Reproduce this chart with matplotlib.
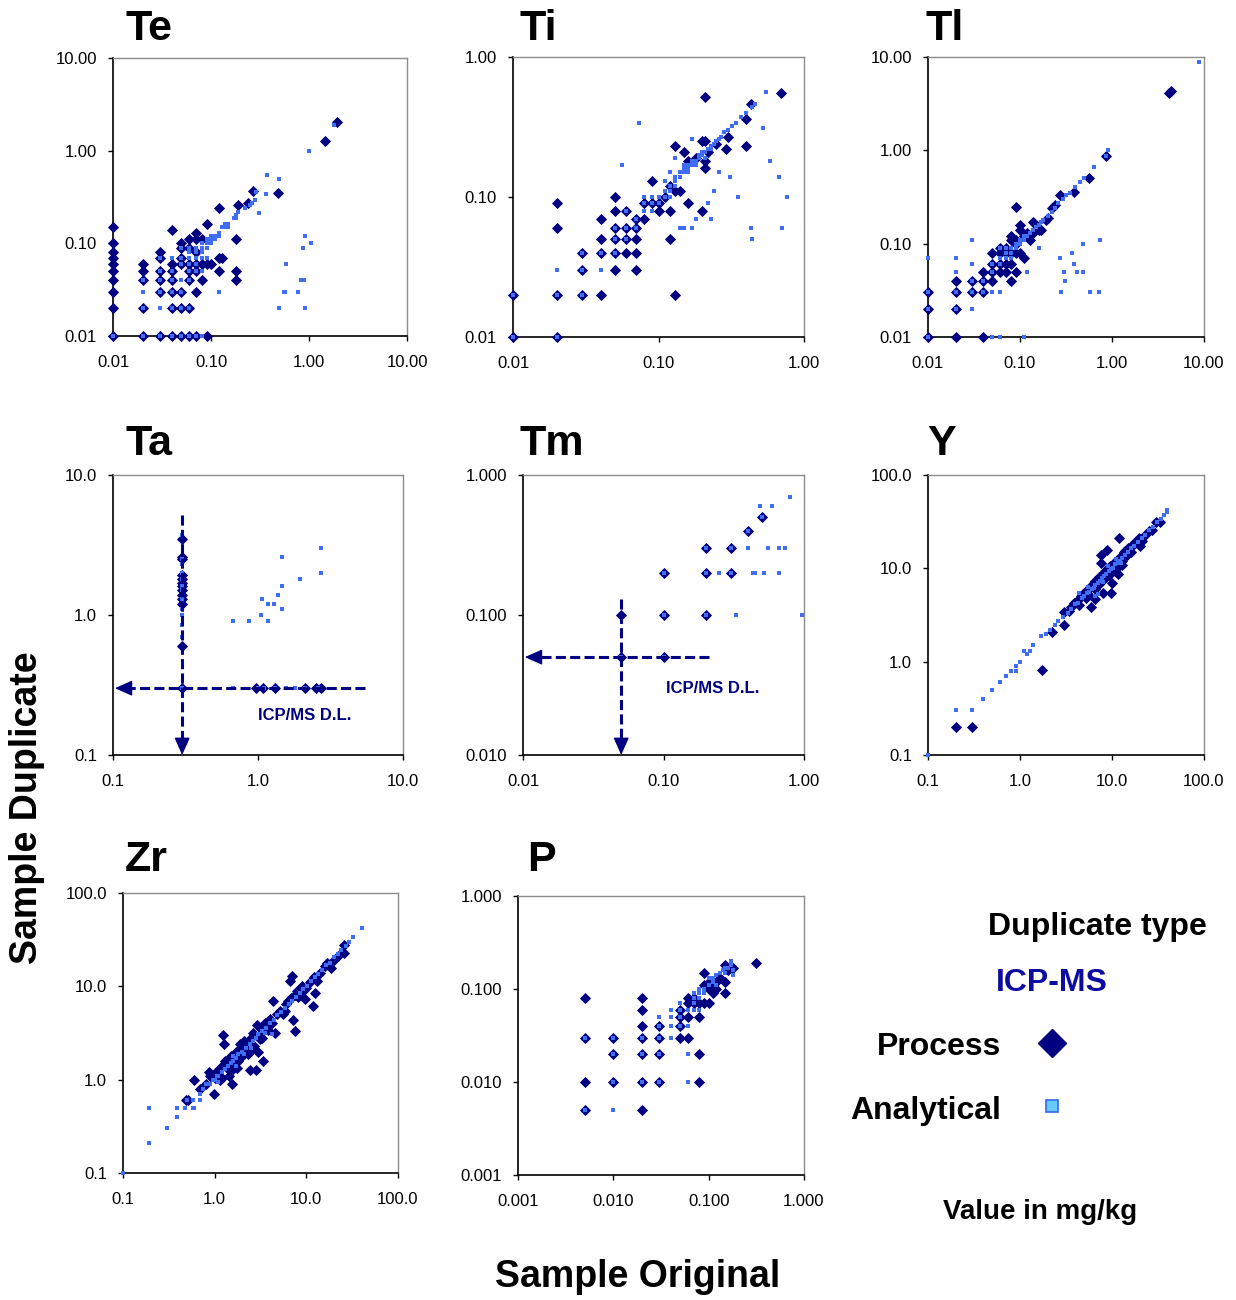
import matplotlib.pyplot as plt
from matplotlib.ticker import FixedLocator, FixedFormatter, NullLocator
from matplotlib.lines import Line2D

plt.rcParams['font.family'] = ['Liberation Sans', 'DejaVu Sans']

NAVY = '#000080'
BLUE = '#3f6ef5'
W, H = 1236, 1300

# ---- data: (sample original, sample duplicate) in mg/kg ----
te_process = [(0.01, 0.01), (0.01, 0.02), (0.01, 0.03), (0.01, 0.04), (0.01, 0.05), (0.01, 0.06),
              (0.01, 0.07), (0.01, 0.08), (0.01, 0.10), (0.01, 0.15),
              (0.02, 0.01), (0.02, 0.02), (0.02, 0.04), (0.02, 0.05), (0.02, 0.06),
              (0.03, 0.01), (0.03, 0.03), (0.03, 0.04), (0.03, 0.05), (0.03, 0.07), (0.03, 0.08),
              (0.04, 0.01), (0.04, 0.02), (0.04, 0.03), (0.04, 0.04), (0.04, 0.05), (0.04, 0.06), (0.04, 0.14),
              (0.05, 0.01), (0.05, 0.02), (0.05, 0.03), (0.05, 0.06), (0.05, 0.07), (0.05, 0.09), (0.05, 0.10),
              (0.06, 0.01), (0.06, 0.02), (0.06, 0.04), (0.06, 0.05), (0.06, 0.06), (0.06, 0.09), (0.06, 0.11),
              (0.07, 0.01), (0.07, 0.03), (0.07, 0.05), (0.07, 0.06), (0.07, 0.08), (0.07, 0.11), (0.07, 0.13),
              (0.08, 0.04), (0.08, 0.06), (0.08, 0.11), (0.09, 0.01), (0.09, 0.06), (0.09, 0.16),
              (0.10, 0.06), (0.12, 0.05), (0.12, 0.07), (0.12, 0.24), (0.13, 0.07),
              (0.18, 0.04), (0.18, 0.05), (0.18, 0.11), (0.19, 0.26), (0.24, 0.27), (0.27, 0.37),
              (0.48, 0.35), (1.46, 1.28), (1.93, 2.04)]
te_analytical = [(0.01, 0.01), (0.02, 0.01), (0.03, 0.01), (0.04, 0.01), (0.05, 0.01), (0.06, 0.01),
                 (0.07, 0.01), (0.08, 0.01), (0.02, 0.02), (0.04, 0.02), (0.05, 0.02), (0.06, 0.02),
                 (0.03, 0.03), (0.04, 0.03), (0.05, 0.03), (0.02, 0.04), (0.03, 0.04), (0.04, 0.04),
                 (0.06, 0.04), (0.03, 0.05), (0.04, 0.05), (0.06, 0.05), (0.07, 0.05), (0.03, 0.07),
                 (0.05, 0.06), (0.06, 0.06), (0.07, 0.06), (0.05, 0.07), (0.06, 0.07), (0.07, 0.07),
                 (0.06, 0.08), (0.07, 0.08), (0.05, 0.09), (0.06, 0.09), (0.07, 0.09), (0.08, 0.08),
                 (0.08, 0.09), (0.08, 0.10), (0.09, 0.10), (0.09, 0.11), (0.10, 0.10), (0.10, 0.11),
                 (0.11, 0.11), (0.11, 0.12), (0.12, 0.12), (0.12, 0.13), (0.13, 0.15), (0.14, 0.15),
                 (0.15, 0.16), (0.15, 0.15), (0.14, 0.16), (0.17, 0.19), (0.18, 0.20), (0.19, 0.22),
                 (0.22, 0.24), (0.25, 0.26), (0.26, 0.27), (0.28, 0.29), (0.29, 0.36), (0.36, 0.34),
                 (0.37, 0.54), (0.49, 0.50), (1.00, 1.00), (1.82, 1.90), (0.31, 0.21), (0.90, 0.12),
                 (1.05, 0.10), (0.58, 0.06), (0.56, 0.03), (0.57, 0.03), (0.78, 0.03), (0.82, 0.04),
                 (0.86, 0.04), (0.88, 0.04), (0.87, 0.09), (0.49, 0.02), (0.92, 0.02), (0.12, 0.03),
                 (0.02, 0.03), (0.03, 0.02), (0.04, 0.07), (0.08, 0.05), (0.09, 0.07), (0.08, 0.07),
                 (0.05, 0.04), (0.09, 0.09), (0.10, 0.12), (0.18, 0.19)]

ti_process = [(0.01, 0.01), (0.01, 0.02), (0.02, 0.01), (0.02, 0.02), (0.02, 0.06), (0.02, 0.09),
              (0.03, 0.02), (0.03, 0.03), (0.03, 0.04), (0.04, 0.02), (0.04, 0.04), (0.04, 0.05), (0.04, 0.07),
              (0.05, 0.03), (0.05, 0.04), (0.05, 0.05), (0.05, 0.06), (0.05, 0.08), (0.05, 0.10),
              (0.06, 0.04), (0.06, 0.05), (0.06, 0.06), (0.06, 0.08),
              (0.07, 0.03), (0.07, 0.04), (0.07, 0.05), (0.07, 0.06), (0.07, 0.07),
              (0.08, 0.07), (0.08, 0.09), (0.09, 0.09), (0.09, 0.13), (0.10, 0.08), (0.10, 0.09),
              (0.11, 0.10), (0.12, 0.05), (0.12, 0.08), (0.12, 0.12), (0.13, 0.02), (0.13, 0.23),
              (0.13, 0.11), (0.14, 0.11), (0.15, 0.21), (0.16, 0.09), (0.16, 0.18), (0.18, 0.19),
              (0.20, 0.08), (0.20, 0.25), (0.21, 0.16), (0.21, 0.18), (0.21, 0.25), (0.21, 0.52),
              (0.22, 0.21), (0.25, 0.24), (0.29, 0.22), (0.30, 0.27), (0.40, 0.23), (0.40, 0.36),
              (0.43, 0.46), (0.70, 0.55)]
ti_analytical = [(0.01, 0.01), (0.01, 0.02), (0.02, 0.01), (0.02, 0.02), (0.03, 0.03), (0.03, 0.04),
                 (0.03, 0.02), (0.04, 0.04), (0.05, 0.05), (0.05, 0.04), (0.05, 0.06), (0.06, 0.06),
                 (0.06, 0.08), (0.06, 0.05), (0.07, 0.07), (0.07, 0.06), (0.08, 0.08), (0.08, 0.09),
                 (0.09, 0.09), (0.09, 0.10), (0.10, 0.10), (0.10, 0.09), (0.11, 0.10), (0.11, 0.11),
                 (0.12, 0.12), (0.12, 0.11), (0.13, 0.13), (0.13, 0.12), (0.14, 0.14), (0.14, 0.15),
                 (0.15, 0.15), (0.15, 0.16), (0.16, 0.16), (0.16, 0.17), (0.17, 0.17), (0.17, 0.18),
                 (0.18, 0.18), (0.19, 0.19), (0.19, 0.20), (0.20, 0.20), (0.20, 0.21), (0.21, 0.21),
                 (0.22, 0.22), (0.23, 0.23), (0.24, 0.24), (0.25, 0.25), (0.26, 0.26), (0.27, 0.27),
                 (0.28, 0.29), (0.30, 0.30), (0.32, 0.32), (0.34, 0.34), (0.37, 0.37), (0.40, 0.40),
                 (0.44, 0.44), (0.46, 0.46), (0.073, 0.34), (0.056, 0.17), (0.02, 0.03), (0.04, 0.03),
                 (0.55, 0.56), (0.52, 0.31), (0.58, 0.18), (0.67, 0.14), (0.76, 0.10), (0.71, 0.06),
                 (0.43, 0.06), (0.44, 0.05), (0.35, 0.10), (0.31, 0.14), (0.26, 0.15), (0.24, 0.11),
                 (0.22, 0.09), (0.23, 0.07), (0.18, 0.07), (0.14, 0.06), (0.15, 0.06), (0.17, 0.06),
                 (0.13, 0.19), (0.17, 0.26), (0.12, 0.15), (0.12, 0.10), (0.08, 0.10), (0.09, 0.08),
                 (0.11, 0.13), (0.13, 0.14), (0.15, 0.17), (0.16, 0.15), (0.18, 0.17), (0.21, 0.19),
                 (0.23, 0.22)]

tl_process = [(0.01, 0.01), (0.01, 0.02), (0.01, 0.03), (0.02, 0.01), (0.02, 0.02), (0.02, 0.03),
              (0.02, 0.04), (0.03, 0.03), (0.03, 0.04), (0.04, 0.01), (0.04, 0.03), (0.04, 0.04),
              (0.04, 0.05), (0.05, 0.04), (0.05, 0.05), (0.05, 0.06), (0.05, 0.08), (0.06, 0.05),
              (0.06, 0.06), (0.06, 0.08), (0.06, 0.09), (0.07, 0.05), (0.07, 0.06), (0.07, 0.08),
              (0.08, 0.04), (0.08, 0.06), (0.08, 0.08), (0.08, 0.11), (0.08, 0.12), (0.09, 0.05),
              (0.09, 0.08), (0.09, 0.11), (0.09, 0.25), (0.10, 0.08), (0.10, 0.16), (0.10, 0.14),
              (0.11, 0.07), (0.12, 0.12), (0.12, 0.13), (0.13, 0.11), (0.14, 0.17), (0.14, 0.13),
              (0.17, 0.14), (0.19, 0.18), (0.24, 0.26), (0.27, 0.33), (0.39, 0.36), (0.56, 0.50),
              (0.87, 0.88), (4.2, 4.1), (4.4, 4.3), (0.07, 0.09), (0.09, 0.10), (0.11, 0.12),
              (0.15, 0.16), (0.16, 0.14), (0.20, 0.19), (0.22, 0.24)]
tl_analytical = [(0.01, 0.01), (0.01, 0.02), (0.01, 0.03), (0.02, 0.02), (0.02, 0.03), (0.03, 0.03),
                 (0.03, 0.04), (0.04, 0.04), (0.04, 0.03), (0.05, 0.05), (0.05, 0.06), (0.06, 0.06),
                 (0.06, 0.07), (0.07, 0.07), (0.07, 0.08), (0.08, 0.08), (0.08, 0.09), (0.09, 0.09),
                 (0.09, 0.10), (0.10, 0.10), (0.10, 0.11), (0.11, 0.11), (0.11, 0.12), (0.12, 0.12),
                 (0.13, 0.13), (0.14, 0.14), (0.15, 0.15), (0.16, 0.16), (0.17, 0.17), (0.18, 0.18),
                 (0.20, 0.20), (0.22, 0.22), (0.24, 0.24), (0.26, 0.27), (0.29, 0.30), (0.32, 0.33),
                 (0.35, 0.35), (0.40, 0.40), (0.45, 0.46), (0.50, 0.50), (0.63, 0.66), (0.85, 0.88),
                 (0.90, 1.00), (8.8, 8.8), (0.01, 0.07), (0.02, 0.07), (0.02, 0.05), (0.03, 0.11),
                 (0.03, 0.06), (0.03, 0.02), (0.05, 0.03), (0.06, 0.03), (0.05, 0.01), (0.06, 0.01),
                 (0.11, 0.01), (0.12, 0.05), (0.16, 0.09), (0.27, 0.07), (0.28, 0.03), (0.30, 0.05),
                 (0.31, 0.04), (0.37, 0.08), (0.39, 0.06), (0.42, 0.05), (0.48, 0.05), (0.48, 0.10),
                 (0.58, 0.03), (0.72, 0.03), (0.74, 0.11), (0.07, 0.09), (0.06, 0.09), (0.08, 0.07)]

ta_process = [(0.3, 3.5), (0.3, 2.6), (0.3, 2.5), (0.3, 1.93), (0.3, 1.8), (0.3, 1.7), (0.3, 1.6),
              (0.3, 1.5), (0.3, 1.4), (0.3, 1.3), (0.3, 1.2), (0.3, 0.6), (0.3, 0.3),
              (0.97, 0.3), (1.08, 0.3), (1.3, 0.3), (2.1, 0.3), (2.5, 0.3), (2.7, 0.3)]
ta_analytical = [(0.67, 0.9), (0.86, 0.9), (1.17, 0.9), (1.05, 1.0), (1.07, 1.3), (1.17, 1.2),
                 (1.28, 1.2), (1.37, 1.4), (1.47, 1.6), (1.47, 1.1), (1.47, 2.6), (1.94, 1.8),
                 (2.7, 3.0), (2.7, 2.0), (0.67, 0.3), (1.57, 0.3), (1.8, 0.3), (1.0, 0.3), (1.1, 0.3),
                 (1.3, 0.3), (2.1, 0.3), (2.6, 0.3), (0.3, 0.3), (0.3, 0.7), (0.3, 0.85), (0.3, 1.0),
                 (0.3, 1.1), (0.3, 1.3), (0.3, 1.5), (0.3, 1.6), (0.3, 1.8), (0.3, 2.0), (0.3, 2.3),
                 (0.3, 2.5), (0.3, 3.7)]

tm_process = [(0.05, 0.1), (0.05, 0.05), (0.1, 0.1), (0.1, 0.2), (0.1, 0.05), (0.2, 0.1), (0.2, 0.2),
              (0.2, 0.3), (0.3, 0.2), (0.3, 0.3), (0.4, 0.4), (0.5, 0.5)]
tm_analytical = [(0.05, 0.05), (0.1, 0.1), (0.1, 0.2), (0.1, 0.05), (0.2, 0.1), (0.2, 0.2), (0.2, 0.3),
                 (0.3, 0.2), (0.3, 0.3), (0.4, 0.4), (0.5, 0.5), (0.8, 0.7), (0.49, 0.6), (0.59, 0.6),
                 (0.4, 0.3), (0.55, 0.3), (0.66, 0.3), (0.73, 0.3), (0.25, 0.2), (0.43, 0.2),
                 (0.45, 0.2), (0.52, 0.2), (0.66, 0.2), (0.33, 0.1), (0.97, 0.1)]

y_process = [(0.2, 0.2), (0.3, 0.2), (1.75, 0.81), (2.2, 2.1), (3.0, 2.5), (3.0, 3.4), (3.6, 3.9),
             (3.9, 4.3), (4.2, 4.5), (4.6, 5.0), (5.0, 5.4), (5.4, 5.9), (5.7, 6.3), (5.9, 3.9),
             (6.2, 6.7), (6.6, 4.7), (6.6, 7.3), (7.0, 7.6), (7.3, 8.0), (7.6, 14.0), (7.6, 11.5),
             (8.0, 5.5), (8.0, 8.7), (8.4, 9.4), (8.8, 15.6), (9.0, 10.0), (9.5, 9.0), (9.8, 5.5),
             (10.0, 7.0), (10.2, 10.8), (10.7, 9.4), (11.0, 12.0), (11.5, 8.6), (12.0, 21.0),
             (12.0, 11.0), (12.5, 13.5), (13.0, 10.8), (13.5, 15.0), (14.5, 14.0), (15.0, 16.5),
             (16.5, 17.5), (18.0, 18.5), (19.5, 21.0), (20.0, 17.5), (21.0, 19.5), (25.0, 25.0),
             (30.0, 31.0), (33.0, 31.0), (6.5, 6.0), (7.2, 6.8), (8.5, 8.0), (9.5, 10.5), (5.2, 4.8),
             (3.4, 3.5), (4.4, 4.0), (4.9, 5.3), (5.6, 5.2), (6.0, 6.6), (6.9, 6.4), (7.8, 7.4),
             (8.2, 9.0), (9.2, 8.5), (10.5, 11.3), (11.2, 10.2), (12.8, 12.0), (14.0, 15.2),
             (16.0, 15.0), (17.5, 18.8), (22.5, 22.0), (27.0, 26.0)]
y_analytical = [(0.1, 0.1), (0.2, 0.3), (0.3, 0.3), (0.4, 0.4), (0.5, 0.5), (0.6, 0.6), (0.7, 0.7),
                (0.8, 0.8), (0.9, 0.8), (0.9, 0.9), (1.0, 1.0), (1.1, 1.3), (1.2, 1.2), (1.3, 1.3),
                (1.4, 1.5), (1.7, 1.9), (1.9, 2.0), (2.1, 2.2), (2.4, 2.5), (2.6, 2.7), (2.9, 3.0),
                (3.3, 3.3), (3.6, 3.7), (4.0, 4.1), (4.4, 5.5), (4.3, 4.3), (4.7, 4.8), (5.0, 5.0),
                (5.3, 5.4), (5.6, 5.6), (6.0, 6.0), (6.3, 6.2), (6.6, 6.7), (7.0, 7.0), (7.4, 7.3),
                (7.8, 7.9), (8.2, 8.3), (8.7, 8.6), (9.2, 9.3), (9.7, 9.8), (10.3, 10.2), (10.9, 11.0),
                (11.5, 11.4), (12.2, 12.1), (13.0, 13.0), (14.0, 14.0), (15.0, 15.0), (16.2, 16.5),
                (17.5, 17.5), (19.0, 19.0), (21.0, 21.0), (23.0, 23.0), (25.5, 25.5), (28.0, 28.0),
                (31.0, 31.0), (34.0, 34.0), (37.0, 37.0), (40.0, 40.0), (40.0, 42.0), (6.5, 5.0),
                (7.0, 5.3), (5.5, 6.3), (8.0, 7.2), (9.0, 10.5), (11.0, 12.5), (12.5, 11.5)]

zr_process = [(0.49, 0.61), (0.51, 0.6), (0.6, 1.0), (0.69, 0.8), (0.86, 1.2), (0.98, 0.7), (1.0, 1.05),
              (1.1, 1.2), (1.15, 1.0), (1.2, 1.4), (1.23, 3.0), (1.25, 2.4), (1.3, 1.6), (1.4, 1.3),
              (1.5, 1.8), (1.55, 0.9), (1.6, 1.5), (1.7, 2.0), (1.8, 1.6), (1.9, 2.4), (2.0, 1.8),
              (2.1, 2.6), (2.2, 2.0), (2.4, 1.28), (2.5, 2.8), (2.6, 3.2), (2.7, 2.3), (2.8, 1.28),
              (2.9, 3.9), (3.0, 2.0), (3.2, 3.5), (3.4, 1.6), (3.5, 4.0), (3.8, 3.4), (4.0, 4.5),
              (4.3, 7.0), (4.5, 3.2), (4.8, 5.0), (5.2, 5.5), (5.5, 5.0), (6.0, 6.5), (6.3, 7.0),
              (6.6, 11.4), (7.0, 12.9), (7.1, 4.4), (7.5, 3.3), (7.5, 8.0), (8.0, 9.0), (8.5, 8.0),
              (9.0, 10.0), (9.6, 7.3), (10.0, 9.5), (11.0, 11.0), (11.8, 6.2), (12.4, 8.5),
              (13.0, 11.4), (14.0, 14.0), (16.0, 16.5), (18.7, 15.6), (20.0, 19.0), (26.0, 23.0),
              (26.0, 28.0), (1.45, 1.1), (1.75, 1.35), (2.3, 2.5), (3.1, 2.7), (0.8, 0.9), (0.9, 1.1),
              (1.05, 1.25), (1.2, 1.05), (1.35, 1.5), (1.6, 1.3), (1.65, 1.9), (1.85, 2.1),
              (2.05, 2.3), (2.3, 1.9), (2.6, 2.2), (3.3, 2.8), (3.6, 3.9), (4.2, 4.0), (5.8, 5.4),
              (6.8, 7.5), (8.2, 7.6), (9.3, 9.0), (12.0, 12.5), (17.0, 18.0), (22.0, 21.0)]
zr_analytical = [(0.1, 0.1), (0.19, 0.5), (0.19, 0.21), (0.3, 0.3), (0.39, 0.5), (0.39, 0.4), (0.48, 0.5),
                 (0.5, 0.6), (0.58, 0.5), (0.58, 0.6), (0.69, 0.6), (0.69, 0.7), (0.75, 0.8), (0.8, 0.9),
                 (0.85, 0.9), (0.9, 0.9), (0.95, 1.0), (1.0, 1.0), (1.05, 1.1), (1.1, 1.1), (1.2, 1.2),
                 (1.3, 1.3), (1.4, 1.4), (1.5, 1.5), (1.6, 1.6), (1.7, 1.7), (1.8, 1.9), (2.0, 2.0),
                 (2.2, 2.2), (2.4, 2.4), (2.6, 2.6), (2.8, 2.8), (3.0, 3.1), (3.3, 3.3), (3.6, 3.6),
                 (4.0, 4.0), (4.4, 4.4), (4.8, 4.9), (5.3, 5.3), (5.8, 5.8), (6.4, 6.4), (7.0, 7.0),
                 (7.7, 7.7), (8.5, 8.5), (9.3, 9.3), (10.2, 10.2), (11.2, 11.3), (12.3, 12.5),
                 (13.5, 13.5), (15.0, 15.0), (16.5, 16.8), (18.0, 18.0), (20.0, 20.5), (22.0, 22.0),
                 (24.0, 24.5), (27.0, 27.0), (29.0, 30.0), (32.0, 34.0), (40.0, 42.0), (1.6, 1.8),
                 (3.5, 3.2), (2.5, 2.2), (1.7, 1.4), (0.7, 0.6), (0.6, 0.5), (1.1, 0.95), (2.1, 1.9),
                 (4.2, 3.1)]

p_process = [(0.005, 0.08), (0.005, 0.03), (0.005, 0.01), (0.005, 0.005), (0.01, 0.03), (0.01, 0.02),
             (0.01, 0.01), (0.02, 0.08), (0.02, 0.06), (0.02, 0.04), (0.02, 0.03), (0.02, 0.02),
             (0.02, 0.01), (0.02, 0.005), (0.03, 0.04), (0.03, 0.03), (0.03, 0.02), (0.03, 0.01),
             (0.05, 0.06), (0.05, 0.05), (0.05, 0.04), (0.05, 0.03), (0.06, 0.03), (0.06, 0.08),
             (0.06, 0.05), (0.06, 0.07), (0.07, 0.07), (0.08, 0.05), (0.08, 0.02), (0.08, 0.01),
             (0.09, 0.15), (0.08, 0.07), (0.09, 0.07), (0.09, 0.11), (0.10, 0.07), (0.10, 0.10),
             (0.11, 0.11), (0.11, 0.09), (0.12, 0.12), (0.12, 0.10), (0.13, 0.13), (0.15, 0.09),
             (0.15, 0.12), (0.15, 0.18), (0.16, 0.16), (0.18, 0.17), (0.31, 0.19), (0.07, 0.08),
             (0.10, 0.12)]
p_analytical = [(0.005, 0.03), (0.005, 0.005), (0.01, 0.03), (0.01, 0.02), (0.01, 0.01), (0.02, 0.03),
                (0.02, 0.02), (0.02, 0.01), (0.03, 0.03), (0.03, 0.02), (0.03, 0.01), (0.03, 0.04),
                (0.05, 0.04), (0.05, 0.05), (0.05, 0.06), (0.06, 0.06), (0.01, 0.005), (0.03, 0.05),
                (0.04, 0.06), (0.04, 0.05), (0.04, 0.04), (0.04, 0.03), (0.06, 0.02), (0.06, 0.01),
                (0.05, 0.07), (0.06, 0.04), (0.07, 0.06), (0.07, 0.08), (0.07, 0.09), (0.08, 0.08),
                (0.08, 0.09), (0.08, 0.10), (0.09, 0.09), (0.09, 0.10), (0.10, 0.11), (0.10, 0.13),
                (0.11, 0.12), (0.11, 0.13), (0.12, 0.11), (0.12, 0.14), (0.13, 0.15), (0.14, 0.16),
                (0.15, 0.15), (0.15, 0.17), (0.16, 0.17), (0.17, 0.18), (0.17, 0.20), (0.18, 0.14),
                (0.18, 0.16), (0.07, 0.07), (0.08, 0.06)]

# detection limit marks: (D.L., vertical arrow top, horizontal arrow right end)
ta_dl = (0.3, 5.2, 5.5)
tm_dl = (0.05, 0.13, 0.21)

# name, process, analytical, x range, y range, x fmt, y fmt, box px (l, t, r, b), title px (x, baseline)
panels = [
    ('Te', te_process, te_analytical, (0.01, 10), (0.01, 10), '%.2f', '%.2f', (113, 58, 407, 336), (125, 40)),
    ('Ti', ti_process, ti_analytical, (0.01, 1), (0.01, 1), '%.2f', '%.2f', (513, 57, 804, 337), (520, 40)),
    ('Tl', tl_process, tl_analytical, (0.01, 10), (0.01, 10), '%.2f', '%.2f', (928, 57, 1204, 337), (925, 40)),
    ('Ta', ta_process, ta_analytical, (0.1, 10), (0.1, 10), '%.1f', '%.1f', (113, 475, 403, 755), (125, 455)),
    ('Tm', tm_process, tm_analytical, (0.01, 1), (0.01, 1), '%.2f', '%.3f', (523, 475, 804, 755), (520, 455)),
    ('Y', y_process, y_analytical, (0.1, 100), (0.1, 100), '%.1f', '%.1f', (928, 475, 1204, 755), (927, 455)),
    ('Zr', zr_process, zr_analytical, (0.1, 100), (0.1, 100), '%.1f', '%.1f', (123, 893, 398, 1173), (125, 871)),
    ('P', p_process, p_analytical, (0.001, 1), (0.001, 1), '%.3f', '%.3f', (518, 896, 804, 1175), (527, 871)),
]


def decades(lo, hi):
    out = [lo]
    while out[-1] < hi * 0.999:
        out.append(out[-1] * 10)
    return out


def dl_arrows(ax, dl, vtop, hright, lims):
    xlo, ylo = lims[0][0], lims[1][0]
    kw = dict(color=NAVY, lw=2.2, ls=(0, (3.3, 1.4)), clip_on=False, zorder=5)
    ax.plot([dl, dl], [vtop, ylo * 1.12], **kw)
    ax.plot([hright, xlo * 1.12], [dl, dl], **kw)
    head = dict(arrowstyle='-|>,head_length=0.45,head_width=0.2', color=NAVY, lw=1,
                mutation_scale=24, shrinkA=0, shrinkB=0)
    ax.annotate('', xy=(dl, ylo), xytext=(dl, ylo * 1.35), arrowprops=head, zorder=6)
    ax.annotate('', xy=(xlo * 1.03, dl), xytext=(xlo * 1.4, dl), arrowprops=head, zorder=6)


fig = plt.figure(figsize=(W / 100, H / 100), dpi=100)

for name, proc, anal, xr, yr, xf, yf, box, tpos in panels:
    l, t, r, b = box
    ax = fig.add_axes([l / W, 1 - b / H, (r - l) / W, (b - t) / H])
    ax.set_xscale('log')
    ax.set_yscale('log')
    ax.set_xlim(*xr)
    ax.set_ylim(*yr)

    px, py = zip(*proc)
    ax.plot(px, py, ls='none', marker='D', ms=5.4, mfc=NAVY, mec=NAVY, mew=0.6,
            clip_on=False, zorder=3)
    qx, qy = zip(*anal)
    ax.plot(qx, qy, ls='none', marker='s', ms=2.4, mfc=BLUE, mec=BLUE, mew=0,
            clip_on=False, zorder=4)

    xt, yt = decades(*xr), decades(*yr)
    ax.xaxis.set_major_locator(FixedLocator(xt))
    ax.xaxis.set_major_formatter(FixedFormatter([xf % v for v in xt]))
    ax.yaxis.set_major_locator(FixedLocator(yt))
    ax.yaxis.set_major_formatter(FixedFormatter([yf % v for v in yt]))
    ax.xaxis.set_minor_locator(NullLocator())
    ax.yaxis.set_minor_locator(NullLocator())
    ax.tick_params(axis='x', length=3.5, width=1, pad=10, labelsize=12)
    ax.tick_params(axis='y', length=3.5, width=1, pad=8, labelsize=12)

    for side in ('left', 'bottom'):
        ax.spines[side].set_color('black')
        ax.spines[side].set_linewidth(1.2)
    for side in ('top', 'right'):
        ax.spines[side].set_color('#8c8c8c')
        ax.spines[side].set_linewidth(1.0)

    fig.text(tpos[0] / W, 1 - tpos[1] / H, name, fontsize=31, fontweight='bold', va='baseline')

    if name == 'Ta':
        dl_arrows(ax, *ta_dl, (xr, yr))
        ax.text(1.0, 0.19, 'ICP/MS D.L.', color=NAVY, fontsize=12, fontweight='bold', va='center')
    if name == 'Tm':
        dl_arrows(ax, *tm_dl, (xr, yr))
        ax.text(0.105, 0.03, 'ICP/MS D.L.', color=NAVY, fontsize=12, fontweight='bold', va='center')

# axis titles
fig.text(638 / W, 1 - 1287 / H, 'Sample Original', fontsize=27, fontweight='bold',
         ha='center', va='baseline')
fig.text(27 / W, 1 - 808 / H, 'Sample Duplicate', fontsize=27, fontweight='bold',
         ha='center', va='center', rotation=90)

# legend block
fig.text(988 / W, 1 - 935 / H, 'Duplicate type', fontsize=23, fontweight='bold', va='baseline')
fig.text(996 / W, 1 - 991 / H, 'ICP-MS', fontsize=23, fontweight='bold', va='baseline', color='#0c0ca0')
fig.text(1001 / W, 1 - 1055 / H, 'Process', fontsize=23, fontweight='bold', va='baseline', ha='right')
fig.text(1001 / W, 1 - 1119 / H, 'Analytical', fontsize=23, fontweight='bold', va='baseline', ha='right')
fig.text(943 / W, 1 - 1219 / H, 'Value in mg/kg', fontsize=20, fontweight='bold', va='baseline')
fig.add_artist(Line2D([1052 / W], [1 - 1043 / H], transform=fig.transFigure, marker='D', ms=14,
                      mfc=NAVY, mec=NAVY, ls='none'))
fig.add_artist(Line2D([1052 / W], [1 - 1106 / H], transform=fig.transFigure, marker='s', ms=9,
                      mfc='#66ccff', mec='#3366ff', mew=1.2, ls='none'))

fig.savefig('out.png', dpi=100, facecolor='white')
